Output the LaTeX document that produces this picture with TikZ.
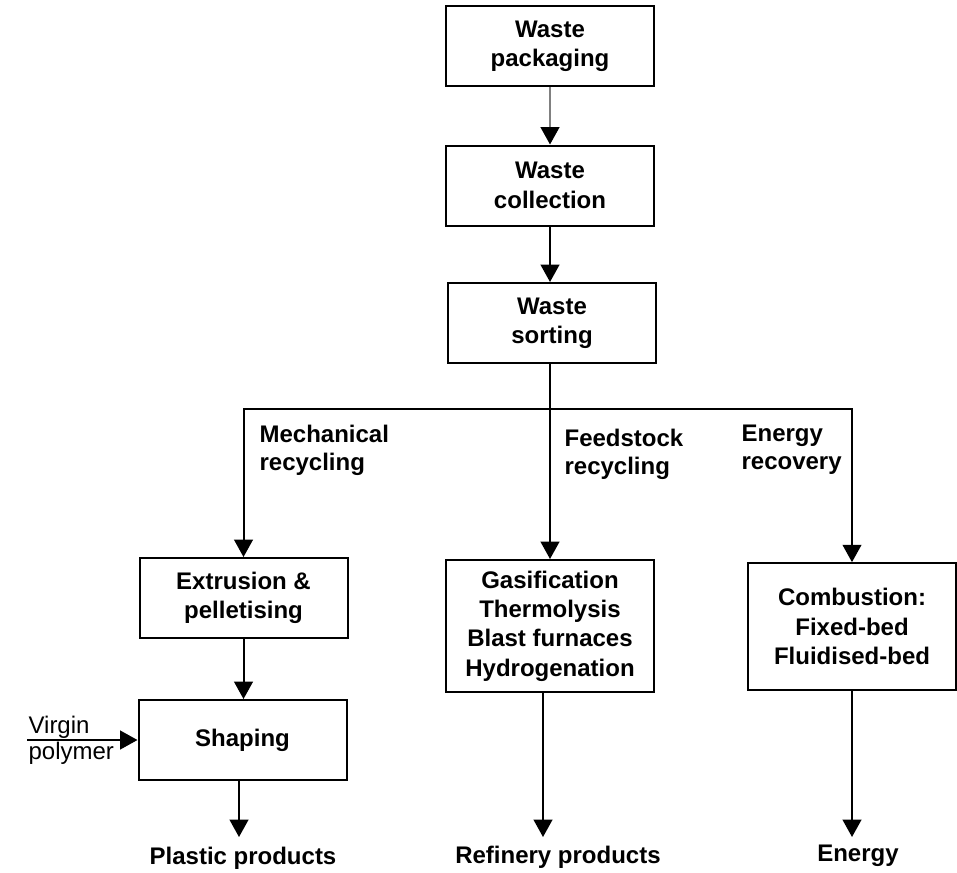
\documentclass[tikz,border=0pt]{standalone}
\usepackage{fontspec}
\setmainfont{Liberation Sans}
\usetikzlibrary{arrows.meta,positioning}
\tikzset{proc/.style={draw,line width=1.5pt,align=center,minimum width=156pt,minimum height=60pt,inner sep=2pt,
		font=\bfseries\fontsize{18}{22}\selectfont},
	branch/.style={align=left,inner sep=1pt,font=\bfseries\fontsize{18}{21}\selectfont},
	outlab/.style={inner sep=1pt,font=\bfseries\fontsize{18}{21}\selectfont},
	flow/.style={-{Triangle[length=13pt,width=14pt,color=black]},line width=1.5pt}}

\begin{document}
\begin{tikzpicture}[x=0.75pt,y=-0.75pt]
	\useasboundingbox (0,0) rectangle (957,872);
	
	% main chain
	\node[proc] (pack) at (550,46) {Waste\\packaging};
	\node[proc] (coll) at (550,185.5) {Waste\\collection};
	\node[proc] (sort) at (552,323) {Waste\\sorting};
	\coordinate (split) at (550,409);
	
	% three routes
	\node[proc] (extr) at (243.5,598) {Extrusion \&\\pelletising};
	\node[proc] (shap) at (242.5,740) {Shaping};
	\node[proc, minimum height=99pt] (gas) at (550,626) {Gasification\\Thermolysis\\Blast furnaces\\Hydrogenation};
	\node[proc, minimum height=95pt] (comb) at (852,626.5) {Combustion:\\Fixed-bed\\Fluidised-bed};
	
	\node[branch, anchor=west] (mech) at (258,450) {Mechanical\\recycling};
	\node[branch, anchor=west] (feed) at (563,454) {Feedstock\\recycling};
	\node[branch, anchor=west] (enrec) at (740,450) {Energy\\recovery};
	
	\node[outlab] (plas) at (243,858) {Plastic products};
	\node[outlab] (refi) at (558,857) {Refinery products};
	\node[outlab] (ener) at (858,856) {Energy};
	
	\coordinate (vp) at (27,740);
	\node[anchor=south west, inner sep=1pt, font=\fontsize{18}{21}\selectfont] (virg) at (vp) {Virgin};
	\node[anchor=north west, inner sep=1pt, font=\fontsize{18}{21}\selectfont] (poly) at (vp) {polymer};
	
	\draw[flow, gray] (pack) -- (coll);
	\draw[flow] (coll) -- (coll.south |- sort.north);
	\draw[line width=1.5pt] (sort.south -| split) -- (split);
	\draw[flow] (split) -| (extr);
	\draw[flow] (split) -- (gas);
	\draw[flow] (split) -| (comb);
	
	\draw[flow] (extr) -- (extr.south |- shap.north);
	\draw[flow] (vp) -- (shap);
	
	\draw[flow, shorten >=6pt] (shap.south -| 239,0) -- (239,845);
	\draw[flow, shorten >=6pt] (gas.south -| 543,0) -- (543,845);
	\draw[flow, shorten >=6pt] (comb) -- (comb.south |- 0,845);
\end{tikzpicture}
\end{document}
